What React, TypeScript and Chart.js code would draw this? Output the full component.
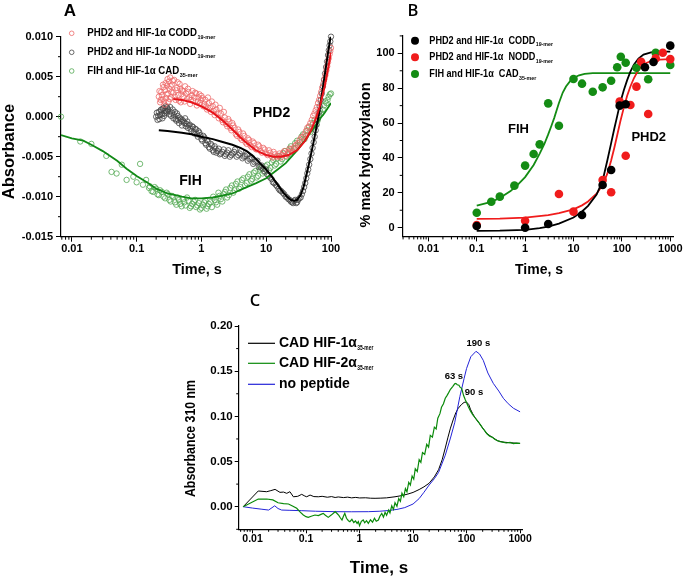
import React, { useEffect, useRef } from 'react';
import { Chart, registerables } from 'chart.js';

Chart.register(...registerables);

const FONT = "'Liberation Sans', Arial, Helvetica, sans-serif";
const LETTER_FONT = "'Open Sans', 'Liberation Sans', sans-serif";

/* ---------------- Panel A: stopped-flow absorbance ---------------- */
const aCoddTime = [0.22,0.23,0.24,0.25,0.26,0.27,0.28,0.29,0.30,0.31,0.32,0.33,0.34,0.35,0.37,0.38,0.40,0.42,0.44,0.46,0.48,0.50,0.53,0.56,0.60,0.63,0.67,0.71,0.75,0.80,0.85,0.90,0.95,1.0,1.07,1.15,1.22,1.3,1.4,1.5,1.6,1.7,1.85,2.0,2.15,2.3,2.5,2.7,2.9,3.1,3.4,3.7,4.0,4.4,4.8,5.2,5.7,6.2,6.8,7.5,8.2,9.0,10,11,12,13,14.5,16,17.5,19,21,23,25,28,31,35,39,43,48,53,58,63,68,73,79,85,90,95,100];
const aCoddValue = [0.0025,0.0018,0.0031,0.0022,0.0037,0.0015,0.0042,0.0028,0.0047,0.0019,0.0035,0.0049,0.0024,0.0040,0.0030,0.0046,0.0021,0.0036,0.0027,0.0041,0.0018,0.0033,0.0025,0.0038,0.0022,0.0031,0.0016,0.0027,0.0020,0.0030,0.0014,0.0024,0.0017,0.0026,0.0013,0.0021,0.0009,0.0017,0.0006,0.0013,0.0002,0.0009,-0.0002,0.0004,-0.0007,-0.0001,-0.0012,-0.0006,-0.0017,-0.0011,-0.0022,-0.0016,-0.0027,-0.0021,-0.0032,-0.0027,-0.0036,-0.0031,-0.0040,-0.0035,-0.0043,-0.0039,-0.0046,-0.0042,-0.0049,-0.0044,-0.0050,-0.0046,-0.0048,-0.0043,-0.0047,-0.0040,-0.0044,-0.0036,-0.0033,-0.0026,-0.0022,-0.0014,-0.0008,0.0001,0.0008,0.0017,0.0026,0.0036,0.0047,0.0058,0.0068,0.0078,0.0086];
const aCoddTime2 = [0.225,0.235,0.245,0.255,0.265,0.275,0.285,0.295,0.305,0.315,0.325,0.335,0.345,0.36,0.39,0.41,0.43,0.45,0.47,0.49,0.52,0.55,0.58,0.62,0.65,0.69,0.73,0.78,0.83,0.88,0.93,0.98,1.04,1.11,1.19,1.26,1.35,1.45,1.55,1.65,1.78,1.92,2.08,2.22,2.4,2.6,2.8,3.0,3.25,3.55,3.85,4.2,4.6,5.0,5.45,5.95,6.5,7.1,7.8,8.6,9.5,10.5,11.5,12.5,13.7,15.2,16.7,18.2,20,22,24,26.5,29.5,33,37,41,45.5,50.5,55.5,60.5,65.5,70.5,76,82,87.5,92.5,97.5];
const aCoddValue2 = [0.0032,0.0021,0.0027,0.0040,0.0019,0.0033,0.0023,0.0039,0.0029,0.0044,0.0022,0.0038,0.0031,0.0045,0.0025,0.0033,0.0043,0.0020,0.0035,0.0028,0.0032,0.0019,0.0029,0.0035,0.0024,0.0021,0.0032,0.0024,0.0029,0.0019,0.0028,0.0021,0.0023,0.0016,0.0013,0.0024,0.0011,0.0019,0.0007,0.0015,0.0004,0.0011,-0.0004,0.0006,-0.0009,-0.0003,-0.0014,-0.0008,-0.0014,-0.0024,-0.0019,-0.0029,-0.0024,-0.0034,-0.0029,-0.0038,-0.0033,-0.0041,-0.0037,-0.0045,-0.0041,-0.0048,-0.0045,-0.0051,-0.0047,-0.0049,-0.0051,-0.0045,-0.0049,-0.0044,-0.0041,-0.0039,-0.0035,-0.0029,-0.0025,-0.0018,-0.0012,-0.0004,0.0004,0.0012,0.0021,0.0031,0.0041,0.0052,0.0063,0.0073,0.0082];

const aNoddTime = [0.20,0.21,0.22,0.23,0.24,0.25,0.26,0.27,0.28,0.29,0.30,0.32,0.33,0.35,0.37,0.39,0.41,0.43,0.45,0.48,0.50,0.53,0.56,0.59,0.62,0.66,0.70,0.74,0.78,0.83,0.88,0.93,1.0,1.07,1.15,1.22,1.3,1.4,1.5,1.6,1.7,1.85,2.0,2.2,2.4,2.6,2.9,3.2,3.5,3.9,4.3,4.7,5.2,5.7,6.3,7.0,7.7,8.5,9.4,10.4,11.5,12.7,14,15.5,17,19,21,23,25,27,29,31,34,37,40,43,46,50,54,58,62,67,72,78,84,90,95,100];
const aNoddValue = [0.0000,-0.0004,0.0006,0.0002,0.0009,-0.0002,0.0011,0.0004,0.0013,0.0007,0.0010,0.0003,0.0012,0.0005,-0.0002,0.0006,-0.0005,0.0001,-0.0008,-0.0003,-0.0011,-0.0006,-0.0002,-0.0009,-0.0014,-0.0010,-0.0018,-0.0013,-0.0021,-0.0016,-0.0025,-0.0020,-0.0028,-0.0024,-0.0033,-0.0029,-0.0038,-0.0034,-0.0042,-0.0037,-0.0045,-0.0040,-0.0046,-0.0041,-0.0047,-0.0042,-0.0048,-0.0044,-0.0050,-0.0046,-0.0052,-0.0049,-0.0055,-0.0052,-0.0059,-0.0056,-0.0063,-0.0061,-0.0068,-0.0072,-0.0076,-0.0082,-0.0085,-0.0090,-0.0093,-0.0097,-0.0101,-0.0104,-0.0107,-0.0105,-0.0108,-0.0104,-0.0101,-0.0093,-0.0083,-0.0071,-0.0060,-0.0046,-0.0032,-0.0017,-0.0003,0.0013,0.0029,0.0046,0.0062,0.0077,0.0089,0.0100];
const aNoddTime2 = [0.205,0.215,0.225,0.235,0.245,0.255,0.265,0.275,0.285,0.295,0.31,0.34,0.36,0.38,0.40,0.42,0.44,0.46,0.49,0.51,0.545,0.575,0.605,0.64,0.68,0.72,0.76,0.80,0.86,0.90,0.96,1.03,1.11,1.18,1.26,1.35,1.45,1.55,1.65,1.78,1.92,2.1,2.3,2.5,2.75,3.0,3.3,3.7,4.1,4.5,5.0,5.5,6.0,6.6,7.3,8.1,8.9,9.9,10.9,12.1,13.3,14.7,16.2,18,20,22,24,26,28,30,32.5,35.5,38.5,41.5,44.5,48,52,56,60,64.5,69.5,75,81,87,92.5,97.5];
const aNoddValue2 = [0.0005,0.0001,-0.0003,0.0008,0.0003,0.0010,0.0001,0.0008,0.0005,0.0012,0.0008,0.0001,0.0009,0.0002,-0.0003,0.0004,-0.0004,-0.0001,-0.0006,-0.0004,-0.0008,-0.0012,-0.0006,-0.0011,-0.0015,-0.0012,-0.0019,-0.0015,-0.0022,-0.0018,-0.0023,-0.0030,-0.0026,-0.0035,-0.0031,-0.0040,-0.0036,-0.0044,-0.0040,-0.0043,-0.0047,-0.0044,-0.0049,-0.0045,-0.0050,-0.0046,-0.0041,-0.0048,-0.0043,-0.0050,-0.0047,-0.0053,-0.0051,-0.0057,-0.0055,-0.0062,-0.0065,-0.0066,-0.0074,-0.0078,-0.0083,-0.0087,-0.0092,-0.0095,-0.0100,-0.0103,-0.0106,-0.0108,-0.0104,-0.0107,-0.0102,-0.0097,-0.0088,-0.0077,-0.0066,-0.0053,-0.0039,-0.0025,-0.0010,0.0005,0.0021,0.0038,0.0054,0.0069,0.0083,0.0094];

const aCadTime = [0.0068,0.0135,0.020,0.034,0.041,0.049,0.059,0.070,0.089,0.100,0.113,0.125,0.14,0.155,0.17,0.19,0.21,0.23,0.26,0.29,0.32,0.35,0.39,0.43,0.47,0.52,0.57,0.63,0.69,0.76,0.83,0.91,1.0,1.1,1.2,1.3,1.45,1.6,1.75,1.9,2.1,2.3,2.5,2.8,3.1,3.4,3.8,4.2,4.7,5.2,5.8,6.4,7.1,7.9,8.8,9.8,11,12.2,13.5,15,16.7,18.5,20.5,23,25.5,28,31,35,39,43,48,53,59,65,71,78,85,92,100];
const aCadValue = [0.0000,-0.0031,-0.0034,-0.0049,-0.0069,-0.0071,-0.0060,-0.0079,-0.0075,-0.0082,-0.0059,-0.0085,-0.0079,-0.0089,-0.0093,-0.0088,-0.0097,-0.0092,-0.0100,-0.0095,-0.0104,-0.0099,-0.0107,-0.0101,-0.0109,-0.0103,-0.0111,-0.0105,-0.0112,-0.0106,-0.0113,-0.0108,-0.0114,-0.0107,-0.0115,-0.0109,-0.0113,-0.0104,-0.0110,-0.0099,-0.0106,-0.0094,-0.0101,-0.0089,-0.0095,-0.0084,-0.0090,-0.0079,-0.0086,-0.0075,-0.0080,-0.0070,-0.0076,-0.0066,-0.0071,-0.0062,-0.0067,-0.0057,-0.0061,-0.0052,-0.0056,-0.0046,-0.0050,-0.0040,-0.0043,-0.0033,-0.0036,-0.0025,-0.0028,-0.0017,-0.0019,-0.0008,-0.0010,0.0002,0.0004,0.0014,0.0017,0.0025,0.0029];
const aCadTime2 = [0.16,0.18,0.20,0.22,0.245,0.275,0.305,0.335,0.37,0.41,0.45,0.495,0.545,0.6,0.66,0.72,0.8,0.87,0.95,1.05,1.15,1.25,1.38,1.52,1.68,1.83,2.0,2.2,2.4,2.65,2.95,3.25,3.6,4.0,4.45,5.0,5.5,6.1,6.8,7.5,8.3,9.3,10.4,11.6,12.8,14.2,15.8,17.6,19.5,21.7,24,27,30,33,37,41,45.5,50.5,56,62,68,74.5,81.5,88.5,96];
const aCadValue2 = [-0.0087,-0.0094,-0.0090,-0.0098,-0.0094,-0.0102,-0.0097,-0.0106,-0.0100,-0.0110,-0.0104,-0.0112,-0.0107,-0.0101,-0.0114,-0.0109,-0.0104,-0.0111,-0.0116,-0.0110,-0.0105,-0.0112,-0.0107,-0.0100,-0.0107,-0.0095,-0.0103,-0.0097,-0.0091,-0.0098,-0.0086,-0.0092,-0.0081,-0.0088,-0.0077,-0.0083,-0.0072,-0.0078,-0.0068,-0.0074,-0.0064,-0.0069,-0.0060,-0.0064,-0.0054,-0.0059,-0.0049,-0.0053,-0.0043,-0.0047,-0.0037,-0.0040,-0.0030,-0.0032,-0.0022,-0.0024,-0.0013,-0.0015,-0.0004,-0.0005,0.0007,0.0009,0.0019,0.0021,0.0028];

const aCoddFitTime = [0.37,0.5,0.7,1.0,1.5,2,3,4,5,7,10,13,17,22,30,40,50,60,70,80,90,100];
const aCoddFitValue = [0.0022,0.0021,0.0018,0.0013,0.0005,-0.0003,-0.0016,-0.0026,-0.0033,-0.0042,-0.0048,-0.0050,-0.0050,-0.0048,-0.0042,-0.0030,-0.0016,0.0000,0.0018,0.0038,0.0060,0.0080];
const aNoddFitTime = [0.22,0.3,0.5,0.7,1,1.5,2,3,4,5,6,7,8,10,12,15,18,21,24,27,30,34,38,42,46,50,55,60,65,70,80,90,100];
const aNoddFitValue = [-0.0017,-0.0018,-0.0020,-0.0022,-0.0025,-0.0028,-0.0031,-0.0035,-0.0039,-0.0043,-0.0048,-0.0053,-0.0058,-0.0066,-0.0074,-0.0085,-0.0094,-0.0100,-0.0104,-0.0105,-0.0104,-0.0098,-0.0087,-0.0072,-0.0058,-0.0044,-0.0028,-0.0012,0.0003,0.0020,0.0052,0.0080,0.0103];
const aCadFitTime = [0.0068,0.01,0.015,0.02,0.03,0.05,0.07,0.1,0.15,0.2,0.3,0.5,0.7,1,1.5,2,3,5,7,10,15,20,30,40,50,60,70,80,100];
const aCadFitValue = [-0.0023,-0.0027,-0.0030,-0.0035,-0.0043,-0.0055,-0.0065,-0.0074,-0.0083,-0.0090,-0.0096,-0.0100,-0.0102,-0.0102,-0.0101,-0.0099,-0.0096,-0.0088,-0.0083,-0.0077,-0.0066,-0.0058,-0.0042,-0.0029,-0.0018,-0.0009,-0.0001,0.0005,0.0017];

const aTimeTicks = [0.01, 0.1, 1, 10, 100];
const aAbsTicks = [-0.015, -0.01, -0.005, 0, 0.005, 0.01];

/* ---------------- Panel B: % max hydroxylation ---------------- */
const bCoddTime = [0.1,1,3,15,40,60,90,120,300,450,1000];
const bCoddValue = [1.0,0.0,2.1,7.3,24.5,33.1,70.0,70.8,92.0,95.0,104.4];
const bNoddTime = [0.1,1,5,10,40,60,90,120,150,200,250,350,500,700,1000];
const bNoddValue = [1.5,4.0,19.3,9.2,27.3,20.3,72.3,41.3,70.4,80.9,95.2,65.2,97.1,100.3,96.7];
const bCadTime = [0.1,0.2,0.3,0.6,1,1.5,2,3,5,10,15,25,40,60,80,95,120,200,350,500,1000];
const bCadValue = [8.6,14.9,17.8,24.1,35.6,42.3,47.8,71.3,58.5,85.3,82.6,78.0,80.5,84.3,92.0,98.0,94.6,91.7,85.1,100.3,93.3];

const bCoddFitTime = [0.1,0.3,1,2,3,5,10,15,20,30,40,50,60,70,80,93,110,128,150,177,220,280,400,620,1000];
const bCoddFitValue = [-1.8,-1.7,-1.2,-0.3,0.6,2.3,5.8,9.3,12.5,19,27,38.5,48.5,57,64,72,79,84.5,89.5,93.5,97,99.3,100.6,101,101];
const bNoddFitTime = [0.1,0.3,1,3,5,10,15,20,30,40,50,60,70,80,93,110,128,150,177,210,250,320,400,600,1000];
const bNoddFitValue = [5.0,5.2,5.8,7.2,8.3,10.5,12.8,15,19.5,24.5,31,38.5,46,53,61,69,75.5,81,85.7,89.5,92.3,94.5,95.6,96.4,96.7];
const bCadFitTime = [0.1,0.2,0.3,0.5,0.7,1,1.5,2,2.5,3,3.5,4,4.5,5,6,7,8.5,10,13,17,25,50,1000];
const bCadFitValue = [12.6,14.8,17,21,24.5,29,36,42.5,48,53.5,58.5,63,67.5,71.5,77.5,81,84,85.8,87.4,88.2,88.6,88.7,88.7];

const bTimeTicks = [0.01, 0.1, 1, 10, 100, 1000];
const bPctTicks = [0, 20, 40, 60, 80, 100];

/* ---------------- Panel C: absorbance at 310 nm ---------------- */
const cHif1Time = [0.0067,0.0128,0.0184,0.022,0.0264,0.0326,0.038,0.0436,0.05,0.058,0.07,0.083,0.095,0.103,0.119,0.14,0.17,0.2,0.25,0.3,0.35,0.4,0.5,0.6,0.71,0.85,1.0,1.3,1.6,1.95,2.5,3.2,4.6,6,8,10,13,16,20,25,30,35,40,45,50,56,63,70,80,90,100,110,118,130,142,155,175,200,238,300,380,480,650,1000];
const cHif1Value = [0,0.0174,0.0166,0.0178,0.0192,0.0159,0.0162,0.0148,0.0166,0.0110,0.0115,0.0137,0.0118,0.0110,0.0129,0.0112,0.0110,0.0115,0.0105,0.0112,0.0102,0.0108,0.0101,0.0106,0.0098,0.0103,0.0097,0.0099,0.0094,0.0093,0.0095,0.0098,0.0110,0.0122,0.0140,0.0158,0.0190,0.0220,0.0260,0.0330,0.0410,0.0520,0.0650,0.0770,0.0870,0.0960,0.1040,0.1090,0.1130,0.1155,0.1158,0.1130,0.1080,0.1030,0.0990,0.0960,0.0920,0.0870,0.0810,0.0770,0.0730,0.0715,0.0708,0.0700];

const cHif2Time = [0.0067,0.0128,0.0184,0.024,0.03,0.038,0.047,0.057,0.067,0.078,0.089,0.1,0.11,0.125,0.147,0.17,0.19,0.21,0.23,0.26,0.3,0.35,0.38,0.41,0.44,0.47,0.5,0.53,0.57,0.62,0.66,0.72,0.78,0.84,0.9,0.95,1.0,1.08,1.17,1.25,1.35,1.46,1.6,1.75,1.9,2.05,2.25,2.4,2.6,2.8,3.0,3.2,3.5,3.7,4.0,4.3,4.6,5.0,5.4,5.8,6.2,6.7,7.2,7.7,8.3,8.9,9.6,10.3,11,12,13,14,15,16.5,18,19.5,21,23,25,27,29,31.8,34,37,40,43,46,50,55,60,63,67,72,76,81,88,95,102,108,118,130,142,155,175,200,220,238,270,300,340,380,423,480,550,650,750,850,1000];
const cHif2Value = [0,0.0085,0.0085,0.0075,0.0044,0.0035,0.0030,0.0005,-0.0018,-0.0060,-0.0092,-0.0110,-0.0118,-0.0105,-0.0092,-0.0098,-0.0085,-0.0074,-0.0095,-0.0118,-0.0090,-0.0055,-0.0075,-0.0096,-0.0125,-0.0147,-0.0105,-0.0074,-0.0128,-0.0155,-0.0166,-0.0140,-0.0175,-0.0158,-0.0185,-0.0165,-0.0210,-0.0162,-0.0147,-0.0178,-0.0155,-0.0184,-0.0145,-0.0172,-0.0128,-0.0160,-0.0147,-0.0105,-0.0074,-0.0115,-0.0062,-0.0095,-0.0037,-0.0068,0.0010,-0.0030,0.0044,0.0005,0.0090,0.0060,0.0150,0.0110,0.0200,0.0165,0.0270,0.0240,0.0340,0.0305,0.0420,0.0390,0.0520,0.0490,0.0600,0.0580,0.0690,0.0660,0.0790,0.0770,0.0880,0.0860,0.0980,0.1030,0.1100,0.1140,0.1200,0.1230,0.1260,0.1300,0.1330,0.1360,0.1365,0.1350,0.1345,0.1320,0.1310,0.1230,0.1180,0.1140,0.1106,0.1060,0.1020,0.0990,0.0960,0.0920,0.0870,0.0840,0.0810,0.0780,0.0770,0.0745,0.0730,0.0720,0.0715,0.0705,0.0712,0.0698,0.0704,0.0700];

const cNoPepTime = [0.0067,0.01,0.015,0.02,0.026,0.03,0.035,0.05,0.083,0.15,0.35,0.7,1.46,2.4,3.5,5,7,10,13,16,20,25,30,40,50,60,75,90,100,120,150,175,205,250,316,400,487,600,750,1000];
const cNoPepValue = [0,-0.0015,-0.0028,-0.0037,0.0010,-0.0020,-0.0037,-0.0040,-0.0044,-0.0050,-0.0055,-0.0056,-0.0055,-0.0050,-0.0042,-0.0030,-0.0010,0.0030,0.0090,0.0160,0.0240,0.0310,0.0380,0.0570,0.0760,0.0930,0.1220,0.1420,0.1530,0.1660,0.1720,0.1690,0.1620,0.1480,0.1365,0.1280,0.1200,0.1140,0.1090,0.1050];

const cTimeTicks = [0.01, 0.1, 1, 10, 100, 1000];
const cAbsTicks = [0, 0.05, 0.1, 0.15, 0.2];

/* ---------------- helpers ---------------- */
const pts = (t: number[], v: number[]) => t.map((x, i) => ({ x, y: v[i] }));

function logAxis(min: number, max: number, majors: number[], o: any) {
  return {
    type: 'logarithmic',
    position: 'bottom',
    min,
    max,
    afterBuildTicks: (s: any) => { s.ticks = majors.map((v) => ({ value: v })); },
    afterFit: (s: any) => { s.height = o.h; s.paddingLeft = 0; s.paddingRight = 0; },
    ticks: {
      callback: (v: any) => String(v),
      font: { family: FONT, size: o.fs, weight: 'bold' },
      color: '#000',
      padding: o.pad,
      autoSkip: false,
      maxRotation: 0,
      minRotation: 0,
    },
    grid: { display: true, drawOnChartArea: false, drawTicks: true, tickLength: o.tl, tickColor: '#000', color: '#000', lineWidth: 1 },
    border: { display: true, color: '#000', width: 1.2 },
    title: { display: false },
  };
}

function linAxis(min: number, max: number, majors: number[], digits: number, o: any) {
  return {
    type: 'linear',
    position: 'left',
    min,
    max,
    afterBuildTicks: (s: any) => { s.ticks = majors.map((v) => ({ value: v })); },
    afterFit: (s: any) => { s.width = o.w; s.paddingTop = 0; s.paddingBottom = 0; },
    ticks: {
      callback: (v: any) => Number(v).toFixed(digits),
      font: { family: FONT, size: o.fs, weight: 'bold' },
      color: '#000',
      padding: o.pad,
      autoSkip: false,
    },
    grid: { display: true, drawOnChartArea: false, drawTicks: true, tickLength: o.tl, tickColor: '#000', color: '#000', lineWidth: 1 },
    border: { display: true, color: '#000', width: 1.2 },
    title: { display: false },
  };
}

function drawLabel(ctx: CanvasRenderingContext2D, text: string, cx: number, cy: number, o: any) {
  ctx.save();
  ctx.fillStyle = '#000';
  ctx.textBaseline = 'middle';
  ctx.textAlign = 'center';
  ctx.font = `${o.weight || 'bold'} ${o.size}px ${o.font || FONT}`;
  ctx.translate(cx, cy);
  if (o.rotate) ctx.rotate(-Math.PI / 2);
  ctx.scale(o.sx || 1, 1);
  ctx.fillText(text, 0, 0);
  ctx.restore();
}

function drawRich(ctx: CanvasRenderingContext2D, text: string, sub: string | undefined, x: number, y: number, L: any) {
  ctx.save();
  ctx.fillStyle = '#000';
  ctx.textBaseline = 'middle';
  ctx.textAlign = 'left';
  ctx.translate(x, y);
  ctx.scale(L.sx, 1);
  ctx.font = `bold ${L.size}px ${FONT}`;
  ctx.fillText(text, 0, 0);
  const w = ctx.measureText(text).width;
  if (sub) {
    ctx.translate(w + 0.5, L.size * 0.36);
    ctx.scale(L.subSx / L.sx, 1);
    ctx.font = `bold ${L.subSize}px ${FONT}`;
    ctx.fillText(sub, 0, 0);
  }
  ctx.restore();
}

function decor(d: any) {
  return {
    id: 'decor',
    afterDraw(chart: any) {
      const ctx = chart.ctx as CanvasRenderingContext2D;
      const a = chart.chartArea;
      const xs = chart.scales.x;
      const ys = chart.scales.y;
      ctx.save();
      ctx.strokeStyle = '#000';
      ctx.lineWidth = 1;
      ctx.beginPath();
      const lo = Math.floor(Math.log10(xs.min));
      const hi = Math.ceil(Math.log10(xs.max));
      for (let e = lo; e <= hi; e++) {
        for (let k = 2; k <= 9; k++) {
          const v = k * Math.pow(10, e);
          if (v < xs.min || v > xs.max) continue;
          const px = xs.getPixelForValue(v);
          ctx.moveTo(px, a.bottom);
          ctx.lineTo(px, a.bottom + d.minorLen);
        }
      }
      d.yMinor.forEach((v: number) => {
        const py = ys.getPixelForValue(v);
        ctx.moveTo(a.left, py);
        ctx.lineTo(a.left - d.minorLen, py);
      });
      ctx.stroke();
      ctx.restore();

      drawLabel(ctx, d.letter.text, d.letter.x, d.letter.y, d.letter);
      d.titles.forEach((t: any) => drawLabel(ctx, t.text, t.x, t.y, t));
      d.notes.forEach((n: any) => drawLabel(ctx, n.text, xs.getPixelForValue(n.x), ys.getPixelForValue(n.y), n));

      const L = d.legend;
      L.items.forEach((it: any, i: number) => {
        const y = L.rows[i];
        ctx.save();
        if (it.kind === 'hollow') {
          ctx.beginPath();
          ctx.arc(L.markerX, y, 2.3, 0, Math.PI * 2);
          ctx.strokeStyle = it.color;
          ctx.lineWidth = 0.8;
          ctx.stroke();
        } else if (it.kind === 'filled') {
          ctx.beginPath();
          ctx.arc(L.markerX, y, 4, 0, Math.PI * 2);
          ctx.fillStyle = it.color;
          ctx.fill();
        } else {
          ctx.beginPath();
          ctx.moveTo(L.markerX, y);
          ctx.lineTo(L.markerX + L.markerW, y);
          ctx.strokeStyle = it.color;
          ctx.lineWidth = 1.2;
          ctx.stroke();
        }
        ctx.restore();
        drawRich(ctx, it.text, it.sub, L.textX, y, L);
      });
    },
  };
}

function fitLine(t: number[], v: number[], color: string, width: number) {
  return { data: pts(t, v), showLine: true, borderColor: color, borderWidth: width, pointRadius: 0, fill: false, tension: 0 };
}
function hollow(t: number[], v: number[], color: string) {
  return { data: pts(t, v), showLine: false, pointRadius: 2.7, pointBorderWidth: 0.8, pointBorderColor: color, pointBackgroundColor: 'rgba(0,0,0,0)', clip: false };
}
function filled(t: number[], v: number[], color: string) {
  return { data: pts(t, v), showLine: false, pointRadius: 4.3, pointBorderWidth: 0, pointBorderColor: color, pointBackgroundColor: color, clip: false };
}
function trace(t: number[], v: number[], color: string, width: number) {
  return { data: pts(t, v), showLine: true, borderColor: color, borderWidth: width, pointRadius: 0, fill: false, tension: 0 };
}

const baseOptions = (padding: any) => ({
  responsive: false,
  animation: false,
  events: [],
  layout: { padding },
  plugins: { legend: { display: false }, tooltip: { enabled: false }, title: { display: false } },
});

function configA(): any {
  return {
    type: 'scatter',
    data: {
      datasets: [
        fitLine(aCoddFitTime, aCoddFitValue, '#e8141b', 2),
        fitLine(aNoddFitTime, aNoddFitValue, '#000000', 2),
        fitLine(aCadFitTime, aCadFitValue, '#128a17', 1.8),
        hollow(aCoddTime.concat(aCoddTime2), aCoddValue.concat(aCoddValue2), '#ee6a6a'),
        hollow(aNoddTime.concat(aNoddTime2), aNoddValue.concat(aNoddValue2), '#454545'),
        hollow(aCadTime.concat(aCadTime2), aCadValue.concat(aCadValue2), '#52a852'),
      ],
    },
    options: {
      ...baseOptions({ left: 0, top: 36.7, right: 14, bottom: 0 }),
      scales: {
        x: logAxis(0.0068, 100, aTimeTicks, { h: 53.3, fs: 11, pad: 1, tl: 5 }),
        y: linAxis(-0.015, 0.01, aAbsTicks, 3, { w: 61, fs: 11, pad: 3, tl: 5 }),
      },
    },
    plugins: [
      decor({
        minorLen: 3,
        yMinor: [-0.0125, -0.0075, -0.0025, 0.0025, 0.0075],
        letter: { text: 'A', x: 70, y: 11, size: 17 },
        titles: [
          { text: 'Absorbance', x: 9.5, y: 151.5, size: 16.5, rotate: true },
          { text: 'Time, s', x: 197, y: 270, size: 14.5 },
        ],
        notes: [
          { text: 'PHD2', x: 12.1, y: 0.0004, size: 14 },
          { text: 'FIH', x: 0.68, y: -0.0081, size: 14 },
        ],
        legend: {
          rows: [33.3, 52.3, 71],
          markerX: 71.7,
          textX: 87.3,
          size: 11,
          sx: 0.88,
          subSize: 6.2,
          subSx: 0.88,
          items: [
            { kind: 'hollow', color: '#ee6a6a', text: 'PHD2 and HIF-1\u03b1 CODD', sub: '19-mer' },
            { kind: 'hollow', color: '#454545', text: 'PHD2 and HIF-1\u03b1 NODD', sub: '19-mer' },
            { kind: 'hollow', color: '#52a852', text: 'FIH and HIF-1\u03b1 CAD', sub: '35-mer' },
          ],
        },
      }),
    ],
  };
}

function configB(): any {
  return {
    type: 'scatter',
    data: {
      datasets: [
        filled(bCoddTime, bCoddValue, '#000000'),
        filled(bNoddTime, bNoddValue, '#f01c1c'),
        filled(bCadTime, bCadValue, '#148c14'),
        fitLine(bCoddFitTime, bCoddFitValue, '#000000', 1.8),
        fitLine(bNoddFitTime, bNoddFitValue, '#f01c1c', 1.8),
        fitLine(bCadFitTime, bCadFitValue, '#148c14', 1.8),
      ],
    },
    options: {
      ...baseOptions({ left: 0, top: 35.9, right: 9.8, bottom: 0 }),
      scales: {
        x: logAxis(0.00295, 1150, bTimeTicks, { h: 53.6, fs: 11, pad: 1, tl: 5 }),
        y: linAxis(-5, 110, bPctTicks, 0, { w: 64.7, fs: 11, pad: 3, tl: 5 }),
      },
    },
    plugins: [
      decor({
        minorLen: 3,
        yMinor: [10, 30, 50, 70, 90, 110],
        letter: { text: 'B', x: 75, y: 11, size: 16.5, font: LETTER_FONT, weight: '600' },
        titles: [
          { text: '% max hydroxylation', x: 27.5, y: 155, size: 14.5, rotate: true },
          { text: 'Time, s', x: 201, y: 270, size: 14 },
        ],
        notes: [
          { text: 'FIH', x: 0.73, y: 56.4, size: 13 },
          { text: 'PHD2', x: 359, y: 52, size: 13 },
        ],
        legend: {
          rows: [40.7, 57.3, 74],
          markerX: 77,
          textX: 91.3,
          size: 11,
          sx: 0.83,
          subSize: 6.2,
          subSx: 0.85,
          items: [
            { kind: 'filled', color: '#000000', text: 'PHD2 and HIF-1\u03b1  CODD', sub: '19-mer' },
            { kind: 'filled', color: '#f01c1c', text: 'PHD2 and HIF-1\u03b1  NODD', sub: '19-mer' },
            { kind: 'filled', color: '#148c14', text: 'FIH and HIF-1\u03b1  CAD', sub: '35-mer' },
          ],
        },
      }),
    ],
  };
}

function configC(): any {
  return {
    type: 'scatter',
    data: {
      datasets: [
        trace(cHif2Time, cHif2Value, '#0a8a0a', 1.2),
        trace(cNoPepTime, cNoPepValue, '#2424d8', 1),
        trace(cHif1Time, cHif1Value, '#000000', 1),
      ],
    },
    options: {
      ...baseOptions({ left: 0, top: 41, right: 22.7, bottom: 0 }),
      scales: {
        x: logAxis(0.00552, 1100, cTimeTicks, { h: 46.7, fs: 10.5, pad: 0, tl: 4 }),
        y: linAxis(-0.025, 0.2, cAbsTicks, 2, { w: 63.7, fs: 11.5, pad: 2, tl: 4 }),
      },
    },
    plugins: [
      decor({
        minorLen: 2.5,
        yMinor: [-0.025, 0.025, 0.075, 0.125, 0.175],
        letter: { text: 'C', x: 80, y: 16, size: 16.5, font: LETTER_FONT, weight: '600' },
        titles: [
          { text: 'Absorbance 310 nm', x: 16.5, y: 153.5, size: 14, sx: 0.88, rotate: true },
          { text: 'Time, s', x: 204, y: 283, size: 17 },
        ],
        notes: [
          { text: '190 s', x: 166, y: 0.1808, size: 9.5 },
          { text: '63 s', x: 58, y: 0.1444, size: 9.5 },
          { text: '90 s', x: 138, y: 0.126, size: 9.5 },
        ],
        legend: {
          rows: [58.3, 78.3, 99.3],
          markerX: 73,
          markerW: 27,
          textX: 104,
          size: 14,
          sx: 1,
          subSize: 6.5,
          subSx: 0.75,
          items: [
            { kind: 'line', color: '#000000', text: 'CAD HIF-1\u03b1', sub: '35-mer' },
            { kind: 'line', color: '#0a8a0a', text: 'CAD HIF-2\u03b1', sub: '35-mer' },
            { kind: 'line', color: '#2424d8', text: 'no peptide' },
          ],
        },
      }),
    ],
  };
}

export default function App() {
  const refA = useRef<HTMLCanvasElement>(null);
  const refB = useRef<HTMLCanvasElement>(null);
  const refC = useRef<HTMLCanvasElement>(null);

  useEffect(() => {
    const charts = [
      new Chart(refA.current as HTMLCanvasElement, configA()),
      new Chart(refB.current as HTMLCanvasElement, configB()),
      new Chart(refC.current as HTMLCanvasElement, configC()),
    ];
    return () => charts.forEach((c) => c.destroy());
  }, []);

  return (
    <div style={{ position: 'absolute', left: 0, top: 0, width: 683, height: 576, background: '#ffffff', overflow: 'hidden' }}>
      <canvas ref={refA} width={345} height={290} style={{ position: 'absolute', left: 0, top: 0, width: 345, height: 290 }} />
      <canvas ref={refB} width={345} height={290} style={{ position: 'absolute', left: 338, top: 0, width: 345, height: 290 }} />
      <canvas ref={refC} width={370} height={291} style={{ position: 'absolute', left: 175, top: 285, width: 370, height: 291 }} />
    </div>
  );
}
